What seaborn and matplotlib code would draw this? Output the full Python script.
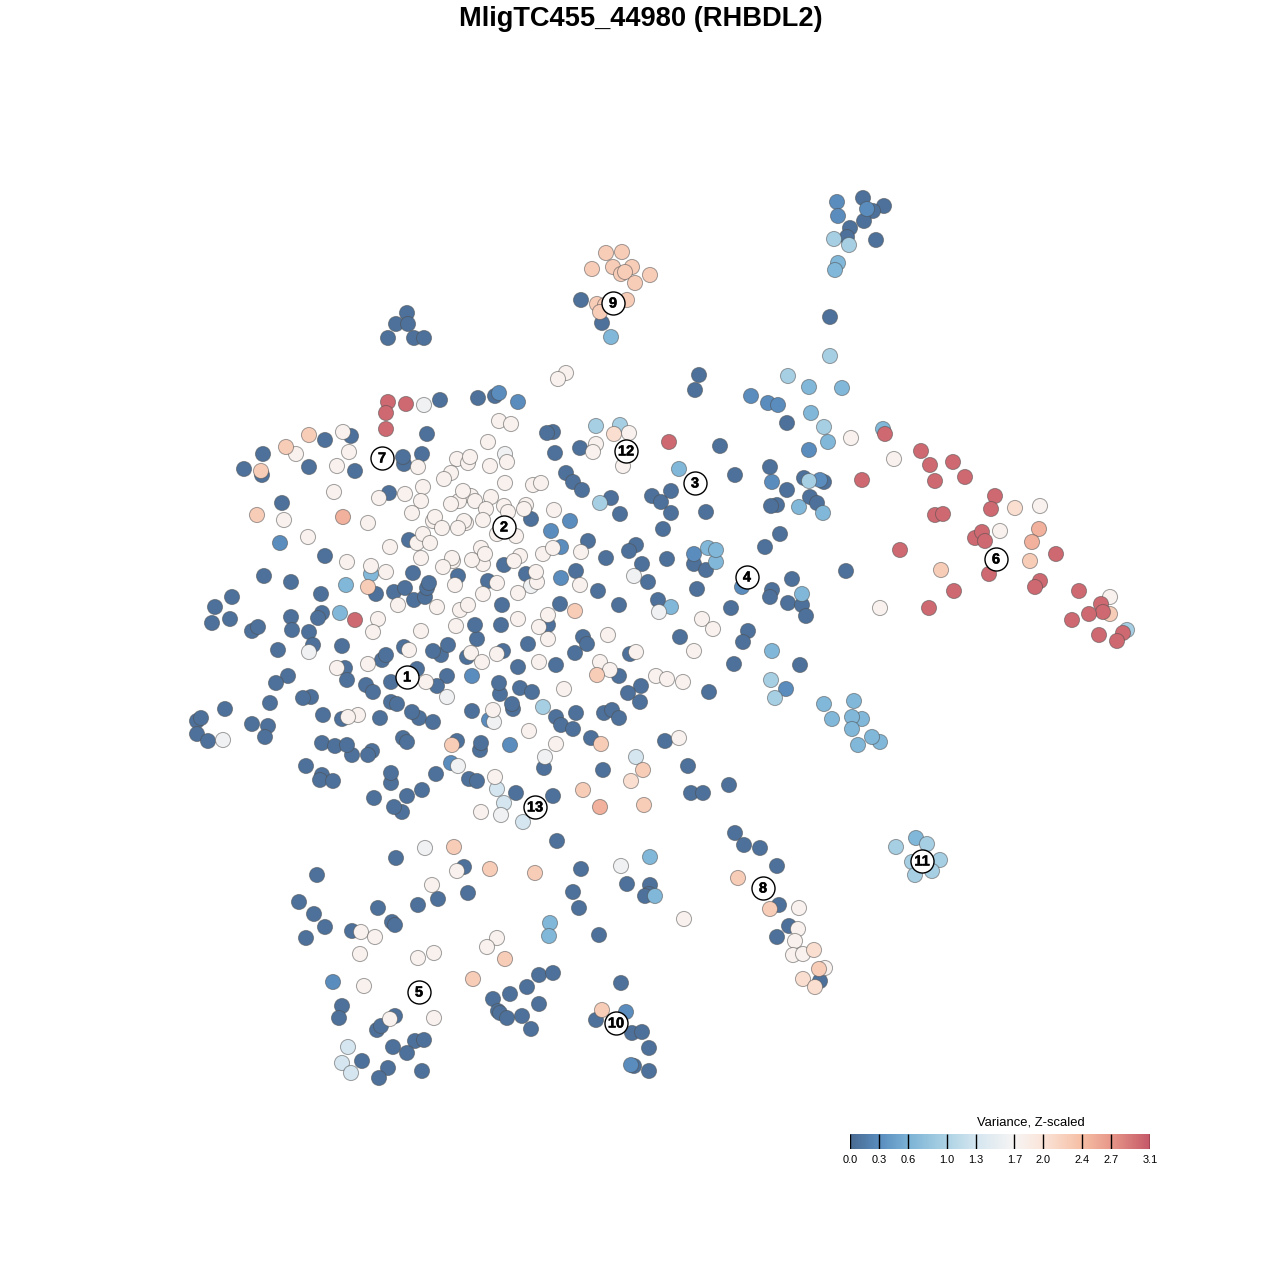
import numpy as np
import pandas as pd
import matplotlib
matplotlib.use("Agg")
import matplotlib.pyplot as plt
import matplotlib.patheffects as pe
from matplotlib.colors import LinearSegmentedColormap
import seaborn as sns

TITLE = "MligTC455_44980 (RHBDL2)"
LEGEND_TITLE = "Variance, Z-scaled"
TICKS = [0.0, 0.3, 0.6, 1.0, 1.3, 1.7, 2.0, 2.4, 2.7, 3.1]

dark = [(863,198),(884,206),(873,211),(864,221),(850,228),(847,237),(876,240),(581,300),(602,323),
(407,313),(396,324),(408,324),(388,338),(414,338),(424,338),(830,317),(699,375),(695,390),(787,423),(478,398),(495,396),(440,400),
(427,434),(325,440),(351,436),(263,454),(262,475),(244,469),(309,467),(355,471),(282,503),(404,464),(403,457),(422,454),(389,493),(409,540),(325,556),(264,576),(291,582),(413,573),(321,594),(376,594),(394,592),(405,588),(414,600),(425,597),(427,588),(429,583),(232,597),(215,607),(212,623),(230,619),(252,631),(258,627),(291,617),(322,613),(318,618),(292,630),(309,632),
(278,650),(313,645),(342,646),(404,647),(382,660),(386,655),(345,668),(347,680),(366,685),(373,692),(391,682),(417,669),(288,676),(276,683),(270,703),(311,697),(303,698),(323,715),(391,702),(397,704),(419,718),(412,712),(433,722),(342,719),(380,718),(225,709),(252,724),(268,726),(265,737),(197,721),(201,718),(197,734),(208,741),(322,743),(335,746),(352,755),(347,745),(372,751),(368,755),(403,738),(407,742),(306,766),(322,775),(320,780),(333,781),(391,783),(391,773),(407,796),(422,790),(374,798),(402,812),(394,807),
(477,639),(441,655),(433,651),(448,645),(467,657),(503,651),(528,644),(583,637),(587,644),(575,653),(630,654),(518,667),(556,665),(619,676),(641,686),(628,693),(640,702),(447,676),(437,686),(500,694),(499,683),(520,688),(532,692),(513,709),(512,704),(472,711),(556,717),(576,713),(561,725),(573,729),(604,713),(612,710),(619,718),(591,738),(457,741),(480,750),(481,743),(544,768),(603,770),(436,774),(469,779),(477,781),(516,793),(553,796),(665,741),
(553,432),(547,433),(580,448),(555,453),(566,473),(573,482),(582,490),(611,498),(620,514),(652,496),(661,502),(671,491),(671,513),(663,529),(706,512),(735,475),(720,446),(770,467),(777,505),(771,506),(765,547),(780,534),(588,541),(606,558),(636,545),(629,551),(576,571),(642,564),(667,559),(648,582),(598,591),(560,604),(619,605),(658,600),(697,589),(694,564),(706,570),(731,608),(772,590),(770,597),(748,631),(743,642),(680,637),(548,625),(531,519),(458,576),(504,565),(488,581),(526,574),(502,605),(475,625),(501,625),
(787,490),(804,478),(824,482),(810,497),(817,503),(846,571),(792,579),(788,603),(802,605),(806,616),(734,664),(800,665),(709,692),(688,766),(691,793),(703,793),(729,785),(735,833),(744,845),(760,848),(777,866),(779,905),(789,926),(777,937),(820,981),
(557,841),(396,858),(464,867),(581,869),(317,875),(627,884),(650,885),(649,894),(645,896),(573,892),(579,908),(468,893),(438,899),(418,905),(378,908),(299,902),(314,914),(325,927),(306,938),(352,931),(392,922),(395,925),(599,935),(539,975),(553,973),(527,987),(510,994),(493,999),(539,1004),(498,1011),(500,1013),(507,1018),(522,1016),(531,1029),(342,1006),(339,1018),(621,983),(596,1020),(632,1033),(642,1032),(649,1048),(634,1066),(649,1071),(395,1016),(377,1030),(381,1026),(393,1047),(415,1041),(424,1040),(407,1053),(362,1061),(388,1068),(379,1078),(422,1071)]

medium = [(837,202),(838,216),(867,209),(751,396),(768,403),(778,405),(809,450),(499,393),(518,402),(280,543),(472,676),(489,720),(510,745),(451,763),(772,482),(820,480),(570,521),(551,531),(561,547),(561,578),(694,554),(742,587),(333,982),(626,1012),(631,1065),(786,689)]

light = [(838,263),(835,270),(842,388),(809,387),(811,413),(828,442),(611,337),(679,469),(708,548),(716,562),(716,550),(671,607),(346,585),(371,574),(340,613),(799,507),(823,513),(802,594),(772,651),(824,704),(832,719),(862,719),(880,742),(872,737),(858,745),(852,717),(852,729),(854,701),(883,429),(650,857),(655,896),(550,923),(549,936),(916,838)]

pale = [(834,239),(849,245),(830,356),(788,376),(824,427),(596,426),(620,425),(600,503),(809,481),(543,707),(771,680),(775,698),(927,844),(896,847),(912,862),(940,860),(932,871),(915,875),(1127,630)]

very_pale = [(497,789),(504,803),(523,822),(636,757),(348,1047),(342,1063),(351,1073)]

near_white = [(424,405),(309,652),(223,740),(505,454),(531,586),(447,697),(494,722),(545,757),(458,766),(501,815),(634,576),(659,612),(425,848),(621,866)]

cream = [(566,373),(558,379),(499,421),(511,424),(851,438),(894,459),(296,454),(343,432),(349,452),(337,466),(334,492),(379,498),(405,494),(423,487),(421,501),(412,513),(284,520),(368,523),(308,537),(417,543),(390,547),(421,558),(347,562),(371,566),(386,572),(398,605),(378,619),(373,632),(421,631),
(337,668),(368,664),(409,650),(426,682),(358,715),(348,717),
(471,653),(482,662),(497,654),(548,639),(539,662),(608,635),(636,652),(600,662),(610,670),(656,676),(667,679),(683,682),(564,689),(493,710),(529,731),(556,744),(495,777),(481,812),(679,738),
(629,433),(596,444),(593,452),(623,466),(554,510),(543,554),(553,548),(581,552),(580,585),(548,615),(702,619),(713,629),(694,651),
(418,467),(457,459),(468,463),(470,457),(490,466),(507,462),(451,473),(444,479),(505,483),(533,485),(541,483),(471,496),(459,501),(451,504),(463,491),(475,501),(491,497),(486,509),(483,520),(504,506),(508,512),(526,505),(524,509),(433,521),(435,517),(442,528),(466,523),(464,521),(458,528),(497,534),(516,536),(423,534),(430,543),(481,548),(483,564),(472,560),(485,554),(453,561),(452,558),(443,567),(520,556),(514,561),(455,585),(497,583),(537,582),(536,572),(518,593),(483,594),(437,607),(460,610),(468,605),(539,627),(518,619),(456,626),(488,442),
(880,608),(1040,506),(1000,531),(1110,597),(684,919),(799,908),(798,929),(795,941),(793,955),(803,954),(825,968),(457,871),(432,885),(361,932),(375,937),(497,938),(487,947),(360,954),(434,953),(418,958),(364,986),(434,1018),(390,1019)]

peach = [(614,434),(1015,508),(814,950),(803,979),(815,987),(631,781)]

salmon = [(606,253),(622,252),(613,267),(632,267),(592,269),(621,274),(625,272),(650,275),(635,283),(627,300),(597,304),(605,305),(600,312),(309,435),(286,447),(261,471),(257,515),(368,587),(452,745),(597,675),(601,744),(643,770),(583,790),(644,805),(454,847),(490,869),(535,873),(738,878),(770,909),(819,969),(505,959),(473,979),(602,1010),(941,570),(1030,561),(1110,614),(575,611)]

deep_salmon = [(343,517),(600,807),(1039,529),(1032,542)]

red = [(406,404),(388,402),(386,413),(386,429),(355,620),(669,442),(885,434),(921,451),(930,465),(953,462),(965,477),(935,481),(862,480),(995,496),(991,509),(935,515),(943,514),(975,538),(982,532),(985,541),(900,550),(989,574),(954,591),(1056,554),(1040,581),(1035,587),(929,608),(1079,591),(1101,604),(1103,612),(1089,614),(1072,620),(1123,633),(1099,635),(1117,641)]

groups = [(dark, 0.05), (medium, 0.3), (light, 0.65), (pale, 0.95), (very_pale, 1.3),
          (near_white, 1.6), (cream, 1.78), (peach, 2.05), (salmon, 2.25), (deep_salmon, 2.5), (red, 3.0)]

cluster_ids = ["1","2","3","4","5","6","7","8","9","10","11","12","13"]
cluster_x = [407,504,695,747,419,996,382,763,613,616,922,626,535]
cluster_y = [677,527,483,577,992,559,458,888,303,1023,861,451,807]

stops = [(0.0,"#4a6c93"),(0.3,"#5a8dbf"),(0.6,"#7cb3d6"),(1.0,"#add3e5"),(1.3,"#d5e6f0"),
         (1.7,"#f7f5f4"),(2.0,"#fbe4d8"),(2.4,"#f6bfa5"),(2.7,"#e8988a"),(3.1,"#c65a69")]
cmap = LinearSegmentedColormap.from_list("var", [(v/3.1, c) for v, c in stops])

sns.set_theme(style="white")
plt.rcParams["font.family"] = ["Liberation Sans", "DejaVu Sans"]

df = pd.DataFrame([(x, y, v) for pts, v in groups for x, y in pts], columns=["x", "y", "value"])
labels_df = pd.DataFrame({"x": cluster_x, "y": cluster_y})

fig = plt.figure(figsize=(12.8, 12.8), dpi=100, facecolor="white")
ax = fig.add_axes([0, 0, 1, 1])
sns.scatterplot(data=df, x="x", y="y", hue="value", palette=cmap, hue_norm=(0, 3.1),
                s=118, edgecolor=(0.3, 0.3, 0.3, 0.5), linewidth=0.75, legend=False, ax=ax, zorder=2)
sns.scatterplot(data=labels_df, x="x", y="y", color="white", s=275, edgecolor="black",
                linewidth=1.0, legend=False, ax=ax, zorder=3)
for t, x, y in zip(cluster_ids, cluster_x, cluster_y):
    ax.text(x, y + 0.5, t, ha="center", va="center", fontsize=10.5, fontweight="bold", color="black",
            zorder=4, path_effects=[pe.withStroke(linewidth=0.35, foreground="black")])
ax.set_xlim(0, 1280)
ax.set_ylim(1280, 0)
ax.axis("off")

ax.text(640.5, 19.5, TITLE, ha="center", va="center", fontsize=19.65, fontweight="bold", color="black")

cax = fig.add_axes([850/1280, (1280-1149)/1280, 300/1280, 15/1280])
grad = np.linspace(0, 3.1, 400).reshape(1, -1)
cax.imshow(grad, aspect="auto", cmap=cmap, vmin=0, vmax=3.1, extent=[0, 3.1, 0, 1])
cax.vlines(TICKS, 0, 1, color="black", linewidth=1.0)
cax.set_xlim(-0.002, 3.102)
cax.set_ylim(0, 1)
cax.set_yticks([])
cax.set_xticks(TICKS)
cax.set_xticklabels([f"{t:.1f}" for t in TICKS], fontsize=7.9, color="black")
cax.tick_params(axis="x", length=0, pad=4)
for s in cax.spines.values():
    s.set_visible(False)
ax.text(1031, 1122.5, LEGEND_TITLE, ha="center", va="center", fontsize=9.4, color="black")

fig.savefig("out.png", dpi=100, facecolor="white")
